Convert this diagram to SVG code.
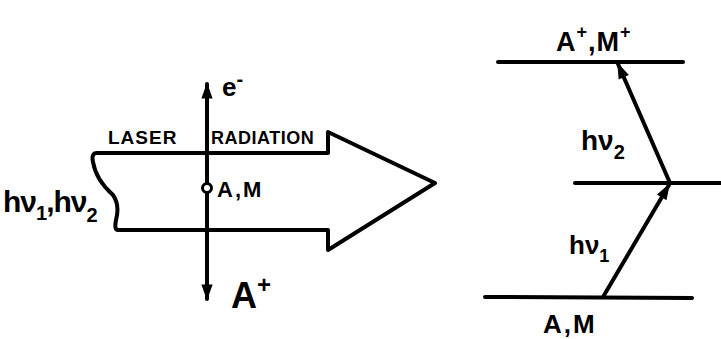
<svg xmlns="http://www.w3.org/2000/svg" width="721" height="339" viewBox="0 0 721 339">
<style>
.ln{stroke:#000;stroke-width:4;fill:none;stroke-linecap:round;stroke-linejoin:round}
.t{font-family:"Liberation Sans",Arial,sans-serif;font-weight:bold;fill:#000}
</style>
<defs>
<marker id="ah" viewBox="0 0 10 10" refX="9" refY="5" markerWidth="5" markerHeight="4" orient="auto" markerUnits="strokeWidth">
<path d="M0,1.5 L10,5 L0,8.5 z" fill="#000"/>
</marker>
</defs>
<g id="beam">
<path class="ln" d="M328,153 L97,153 Q91,153 93,162 Q96,180 113,195 Q120,205 116,220 Q114,230 118,230 L328,230 L328,250 L435,183 L328,132 L328,153"/>
<text class="t" x="108" y="144" font-size="19" letter-spacing="1">LASER</text>
<text class="t" x="211" y="144" font-size="18" letter-spacing="0.5">RADIATION</text>
<text class="t" x="3" y="212" font-size="30" letter-spacing="-1">hν<tspan font-size="20" dy="8">1</tspan><tspan dy="-8">,hν</tspan><tspan font-size="20" dy="10">2</tspan></text>
</g>
<g id="atom">
<circle cx="207" cy="188" r="4.5" fill="#fff" stroke="#000" stroke-width="3"/>
<text class="t" x="217" y="197" font-size="22" letter-spacing="2">A,M</text>
</g>
<g id="connectors">
<line class="ln" x1="207" y1="183" x2="207" y2="84" marker-end="url(#ah)"/>
<line class="ln" x1="207" y1="193" x2="207" y2="299" marker-end="url(#ah)"/>
<line class="ln" x1="603" y1="297" x2="669" y2="185" marker-end="url(#ah)"/>
<line class="ln" x1="670" y1="183" x2="618" y2="64" marker-end="url(#ah)"/>
</g>
<g id="e-">
<text class="t" x="222" y="96" font-size="26">e<tspan dy="-10" font-size="20">-</tspan></text>
</g>
<g id="Aplus">
<text class="t" x="231" y="308" font-size="36">A<tspan dy="-15" font-size="24">+</tspan></text>
</g>
<g id="levels">
<line class="ln" x1="498" y1="62" x2="683" y2="62"/>
<line class="ln" x1="575" y1="183" x2="721" y2="183"/>
<line class="ln" x1="485" y1="297" x2="692" y2="298"/>
<text class="t" x="556" y="51" font-size="27" letter-spacing="1">A<tspan dy="-13" font-size="18">+</tspan><tspan dy="13">,M</tspan><tspan dy="-13" font-size="18">+</tspan></text>
<text class="t" x="581" y="150" font-size="28">hν<tspan font-size="20" dy="9">2</tspan></text>
<text class="t" x="569" y="254" font-size="26">hν<tspan font-size="18" dy="8">1</tspan></text>
<text class="t" x="543" y="333" font-size="26" letter-spacing="2">A,M</text>
</g>
</svg>
